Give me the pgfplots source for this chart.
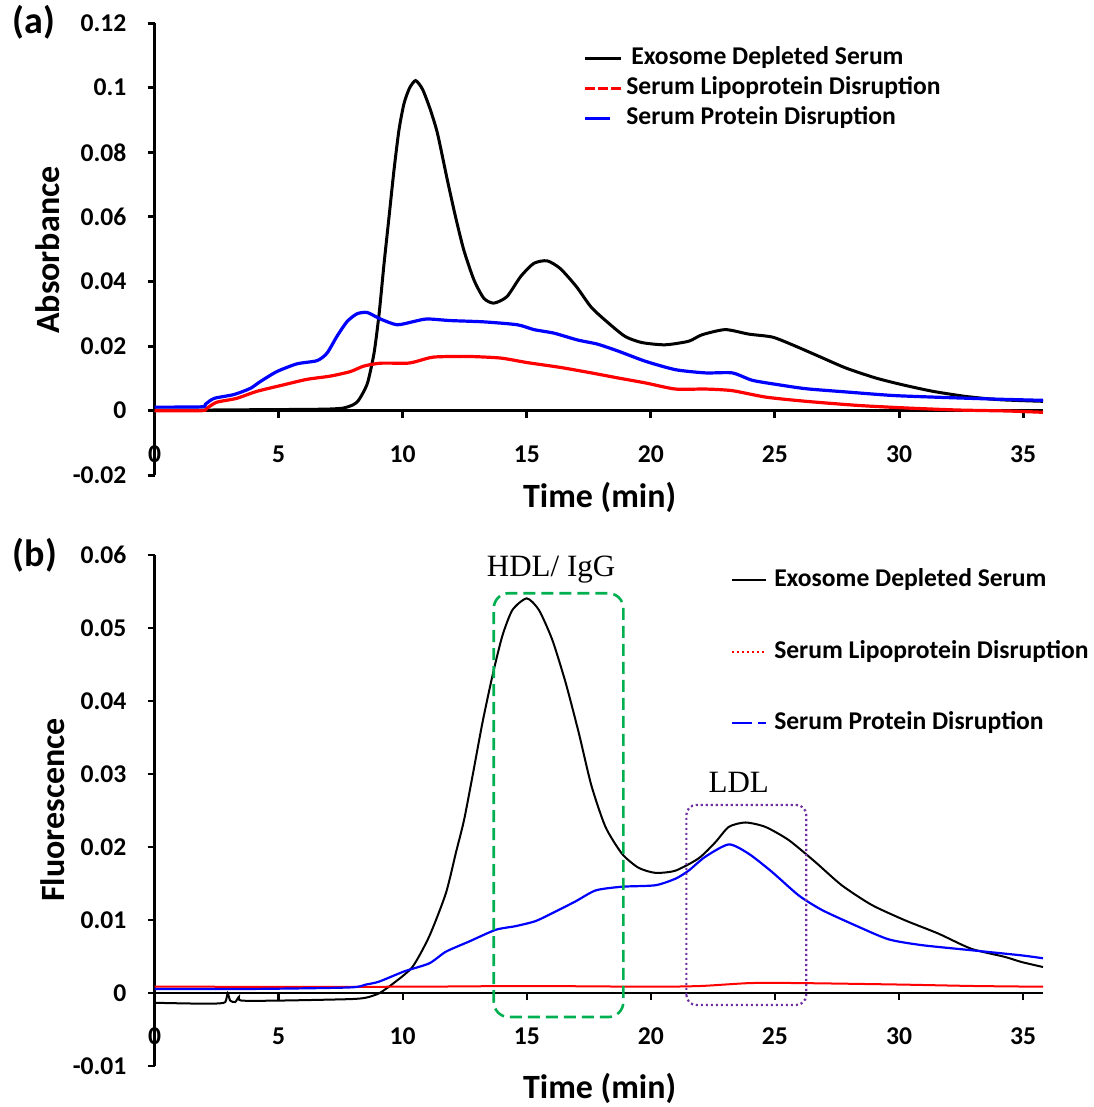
\documentclass[border=0pt]{standalone}
\usepackage{pgfplots}
\pgfplotsset{compat=1.18}
\usepackage{fontspec}
\setmainfont{Carlito}
\newfontfamily\timesfont{Liberation Serif}
\definecolor{hdlgreen}{RGB}{0,176,80}
\definecolor{ldlpurple}{RGB}{112,48,160}

% elution profiles: time (min) vs. signal
\pgfplotstableread{
t A
0 0.0002
2 0.0002
4 0.0003
6 0.0004
7 0.0005
7.6 0.0008
8.0 0.0018
8.2 0.0030
8.4 0.0055
8.6 0.0090
8.85 0.0180
9.05 0.0300
9.25 0.0456
9.45 0.0600
9.65 0.0745
9.85 0.0869
10.05 0.0950
10.27 0.0998
10.52 0.1022
10.8 0.0995
11.1 0.0935
11.4 0.0859
11.8 0.0714
12.13 0.0600
12.46 0.0498
12.87 0.0405
13.27 0.0348
13.67 0.0333
14.2 0.0353
14.75 0.0415
15.28 0.0456
15.82 0.0464
16.35 0.0440
17.0 0.0384
17.6 0.0320
18.28 0.0272
18.96 0.0230
19.63 0.0211
20.57 0.0204
21.52 0.0215
22.06 0.0235
23.0 0.0251
23.95 0.0237
24.89 0.0228
25.7 0.0204
26.78 0.0168
27.86 0.0132
29.07 0.0101
30.15 0.0080
31.36 0.0060
32.7 0.0044
34.05 0.0034
35.8 0.0029
}\absExo
\pgfplotstableread{
t A
0 0.0000
1.9 0.0000
2.1 0.0007
2.5 0.0026
3.3 0.0038
4.13 0.0060
5.2 0.0080
6.14 0.0097
7.08 0.0107
7.89 0.0121
8.43 0.0138
9.1 0.0147
10.18 0.0147
10.58 0.0153
11.25 0.0166
12.59 0.0168
13.94 0.0163
15.01 0.0149
16.35 0.0134
17.6 0.0117
18.7 0.0101
19.78 0.0086
20.99 0.0067
22.2 0.0067
23.28 0.0062
24.63 0.0042
26.25 0.0029
28.4 0.0016
30.4 0.0008
32.4 0.0002
34.4 -0.0001
35.8 -0.0005
}\absLipo
\pgfplotstableread{
t A
0 0.0011
1.9 0.0012
2.05 0.0020
2.4 0.0038
3.2 0.0050
3.86 0.0069
4.26 0.0090
4.93 0.0121
5.74 0.0145
6.55 0.0155
6.95 0.0178
7.35 0.0230
7.76 0.0276
8.16 0.0300
8.57 0.0304
9.1 0.0284
9.77 0.0266
10.44 0.0276
10.98 0.0284
11.92 0.0279
13.27 0.0275
14.62 0.0266
15.29 0.0251
16.1 0.0240
17.04 0.0219
17.85 0.0206
18.7 0.0184
19.78 0.0153
20.99 0.0127
22.2 0.0117
23.28 0.0117
24.09 0.0094
25.17 0.0080
26.25 0.0068
27.87 0.0058
29.76 0.0047
31.78 0.0041
33.8 0.0036
35.8 0.0032
}\absProt
\pgfplotstableread{
t F
0 -0.0013
1.5 -0.0014
2.5 -0.0014
2.85 -0.0012
2.95 0.0000
3.05 -0.0010
3.25 -0.0012
3.4 -0.0005
3.5 -0.0010
5 -0.0010
7.85 -0.0008
8.52 -0.0006
9.05 0.0000
9.6 0.0013
10.39 0.0036
11.07 0.0078
11.74 0.0137
12.14 0.0192
12.47 0.0237
12.81 0.0297
13.21 0.0370
13.61 0.0434
14.01 0.0489
14.42 0.0525
15.0 0.0541
15.49 0.0525
16.03 0.0484
16.57 0.0425
17.1 0.0356
17.6 0.0285
18.17 0.0228
18.84 0.0191
19.5 0.0172
20.18 0.0165
20.99 0.0168
21.93 0.0185
22.6 0.0207
23.14 0.0228
23.81 0.0234
24.61 0.0228
25.55 0.0210
26.62 0.0180
27.69 0.0148
28.9 0.0121
30.24 0.0100
31.57 0.0082
32.91 0.0061
34.25 0.0050
34.92 0.0043
35.8 0.0036
}\fluExo
\pgfplotstableread{
t F
0 0.0009
10 0.0009
15 0.0010
20 0.0009
22 0.0010
24 0.0014
26 0.0014
30 0.0012
33 0.0010
35.8 0.0009
}\fluLipo
\pgfplotstableread{
t F
0 0.0006
4 0.0006
7.85 0.0008
8.52 0.0012
9.05 0.0016
10.06 0.0030
11.07 0.0041
11.74 0.0057
12.68 0.0071
13.75 0.0087
14.55 0.0092
15.36 0.0099
16.16 0.0112
16.97 0.0126
17.78 0.0141
18.84 0.0146
20.18 0.0148
20.99 0.0157
21.52 0.0168
22.19 0.0187
23.14 0.0204
23.95 0.0191
24.89 0.0166
25.96 0.0134
26.9 0.0114
28.24 0.0093
29.57 0.0074
30.91 0.0066
32.91 0.0059
34.92 0.0052
35.8 0.0048
}\fluProt

\tikzset{
  lgd/.style={font=\fontsize{12.8}{14}\selectfont\bfseries},
  labfont/.style={font=\fontsize{17}{20}\selectfont\bfseries},
  tickfont/.style={font=\fontsize{12.8}{14}\selectfont\bfseries},
}
\pgfplotsset{
  chrom/.style={
    scale only axis, width=444.25pt,
    xmin=0, xmax=35.8,
    axis x line*=middle, axis y line*=left,
    xtick={0,5,...,35},
    hide obscured x ticks=false,
    scaled y ticks=false,
    tick align=outside,
    major tick length=3.5pt,
    ticklabel style={tickfont},
    xticklabel style={yshift=-10.4pt},
    yticklabel style={xshift=-7pt},
    clip=false,
    legend cell align=left,
  },
}

\begin{document}
\begin{tikzpicture}
\path[use as bounding box] (0,0) rectangle (546.5pt,553.5pt);

% ---------- (a) absorbance ----------
\begin{axis}[chrom,
  at={(77.25pt,315.85pt)}, anchor=south west,
  height=226.1pt,
  ymin=-0.02, ymax=0.12,
  ytick={-0.02,0,0.02,0.04,0.06,0.08,0.1,0.12},
  yticklabels={-0.02,0,0.02,0.04,0.06,0.08,0.1,0.12},
  xticklabels={0,5,10,15,20,25,30,35},
  axis line style={line width=1.5pt},
  tick style={black, line width=1.5pt},
  legend style={draw=none, fill=none, at={(axis description cs:0.4826,0.950)},
    anchor=north west, inner sep=0pt, outer sep=0pt, row sep=2.5pt, column sep=2pt,
    nodes={inner sep=0pt, text height=9.5pt, text depth=3pt, lgd}},
]
\addlegendimage{legend image code/.code={\draw[black, line width=1.5pt] (0pt,0pt)--(18pt,0pt);}}
\addlegendentry{\hspace*{2.5pt}Exosome Depleted Serum}
\addlegendimage{legend image code/.code={\draw[red, line width=1.5pt, dash pattern=on 5pt off 1.5pt] (0pt,0pt)--(18pt,0pt);}}
\addlegendentry{Serum Lipoprotein Disruption}
\addlegendimage{legend image code/.code={\draw[blue, line width=1.5pt] (0pt,0pt)--(12.5pt,0pt);}}
\addlegendentry{Serum Protein Disruption}

\addplot[forget plot, black, line width=1.5pt, smooth, tension=0.4] table[x=t,y=A] {\absExo};
\addplot[forget plot, red, line width=1.6pt, smooth, tension=0.4] table[x=t,y=A] {\absLipo};
\addplot[forget plot, blue, line width=1.6pt, smooth, tension=0.4] table[x=t,y=A] {\absProt};

\node[labfont] at (axis description cs:0.501,-0.05) {Time (min)};
\node[labfont, rotate=90] at (axis description cs:-0.12,0.498) {Absorbance};
\end{axis}

% ---------- (b) fluorescence ----------
\begin{axis}[chrom,
  at={(77.25pt,20.35pt)}, anchor=south west,
  height=255.5pt,
  ymin=-0.01, ymax=0.06,
  ytick={-0.01,0,0.01,0.02,0.03,0.04,0.05,0.06},
  yticklabels={-0.01,0,0.01,0.02,0.03,0.04,0.05,0.06},
  xticklabels={0,5,10,15,20,25,30,35},
  axis line style={line width=1.1pt},
  tick style={black, line width=1.1pt},
  legend style={draw=none, fill=none, at={(axis description cs:0.6489,0.976)},
    anchor=north west, inner sep=0pt, outer sep=0pt, row sep=23.3pt, column sep=3.5pt,
    nodes={inner sep=0pt, text height=9.5pt, text depth=3pt, lgd}},
]
\addlegendimage{legend image code/.code={\draw[black, line width=1.1pt] (0pt,0pt)--(17pt,0pt);}}
\addlegendentry{Exosome Depleted Serum}
\addlegendimage{legend image code/.code={\draw[red, line width=1pt, dash pattern=on 1pt off 1.5pt] (0pt,0pt)--(17pt,0pt);}}
\addlegendentry{Serum Lipoprotein Disruption}
\addlegendimage{legend image code/.code={\draw[blue, line width=1.1pt, dash pattern=on 10pt off 3pt on 4pt off 3pt] (0pt,0pt)--(17pt,0pt);}}
\addlegendentry{Serum Protein Disruption}

\addplot[forget plot, black, line width=1pt, smooth, tension=0.4] table[x=t,y=F] {\fluExo};
\addplot[forget plot, red, line width=1pt, smooth, tension=0.4] table[x=t,y=F] {\fluLipo};
\addplot[forget plot, blue, line width=1.1pt, smooth, tension=0.4] table[x=t,y=F] {\fluProt};

% fraction windows
\draw[hdlgreen, line width=1.3pt, dash pattern=on 6pt off 3pt, rounded corners=7.5pt]
  (axis cs:13.67,-0.00325) rectangle (axis cs:18.89,0.0548);
\draw[ldlpurple, line width=1.1pt, dash pattern=on 1.1pt off 1.4pt, rounded corners=5pt]
  (axis cs:21.43,-0.0016) rectangle (axis cs:26.26,0.0258);
\node[font=\timesfont\fontsize{15.5}{18}\selectfont] at (axis cs:15.98,0.058) {HDL/ IgG};
\node[font=\timesfont\fontsize{15.5}{18}\selectfont] at (axis cs:23.54,0.0289) {LDL};

\node[labfont] at (axis description cs:0.501,-0.0425) {Time (min)};
\node[labfont, rotate=90] at (axis description cs:-0.115,0.5016) {Fluorescence};
\end{axis}

\node[font=\fontsize{19}{22}\selectfont\bfseries] at (17pt,542.5pt) {(a)};
\node[font=\fontsize{19}{22}\selectfont\bfseries] at (17.5pt,276pt) {(b)};
\end{tikzpicture}
\end{document}
